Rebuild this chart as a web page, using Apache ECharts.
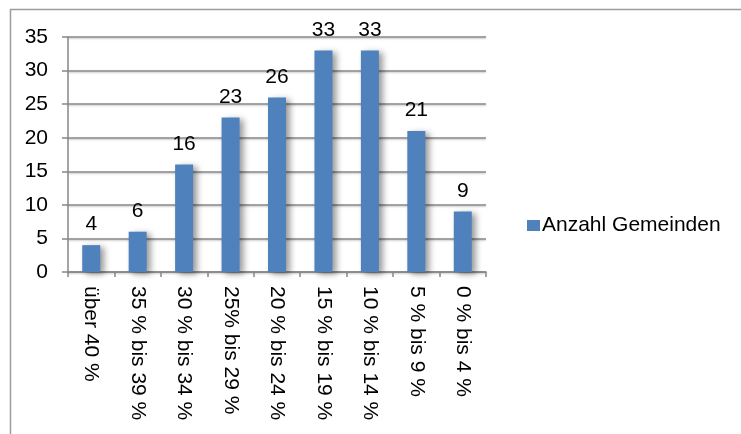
<!DOCTYPE html>
<html>
<head>
<meta charset="utf-8">
<script src="https://cdn.jsdelivr.net/npm/echarts@6/dist/echarts.min.js"></script>
<style>html,body{margin:0;padding:0;background:#fff}#c{width:741px;height:434px}</style>
</head>
<body>
<div id="c"></div>
<script>
const categories = ['über 40 %','35 % bis 39 %','30 % bis 34 %','25% bis 29 %','20 % bis 24 %','15 % bis 19 %','10 % bis 14 %','5 % bis 9 %','0 % bis 4 %'];
const values = [4, 6, 16, 23, 26, 33, 33, 21, 9];
const seriesName = 'Anzahl Gemeinden';
const yTicks = {min: 0, max: 35, interval: 5};

const font = '"Liberation Sans", Arial, sans-serif';
const chart = echarts.init(document.getElementById('c'));
chart.setOption({
  animation: false,
  backgroundColor: '#fff',
  graphic: [{
    type: 'rect', left: 8, top: 7, z: 100,
    shape: {x: 0, y: 0, width: 800, height: 500},
    style: {fill: 'none', stroke: '#9c9c9c', lineWidth: 1.5}
  }],
  legend: {
    left: 522, top: 210,
    icon: 'rect', itemWidth: 13, itemHeight: 11,
    textStyle: {fontFamily: font, fontSize: 21, color: '#000', padding: [0, 0, 0, -3]},
    data: [seriesName]
  },
  grid: {left: 68, right: 255, top: 37, bottom: 162},
  xAxis: {
    type: 'category', data: categories,
    axisLine: {lineStyle: {color: '#868686', width: 1.5}},
    axisTick: {show: true, length: 5, lineStyle: {color: '#868686', width: 1.5}},
    axisLabel: {rotate: -90, margin: 14, fontFamily: font, fontSize: 21, color: '#000', interval: 0}
  },
  yAxis: {
    type: 'value', min: yTicks.min, max: yTicks.max, interval: yTicks.interval,
    axisLine: {show: true, lineStyle: {color: '#868686', width: 1.5}},
    axisTick: {show: true, length: 6, lineStyle: {color: '#868686', width: 1.5}},
    axisLabel: {margin: 20, fontFamily: font, fontSize: 21, color: '#000'},
    splitLine: {lineStyle: {color: '#8a8a8a', width: 1.5, shadowColor: 'rgba(0,0,0,0.25)', shadowBlur: 2, shadowOffsetY: 1}}
  },
  series: [{
    name: seriesName, type: 'bar', data: values, barWidth: 18,
    itemStyle: {color: '#4F81BD', shadowColor: 'rgba(0,0,0,0.4)', shadowBlur: 6, shadowOffsetX: 4, shadowOffsetY: 2},
    label: {show: true, position: 'top', distance: 10, fontFamily: font, fontSize: 21, color: '#000'}
  }]
});
</script>
</body>
</html>
